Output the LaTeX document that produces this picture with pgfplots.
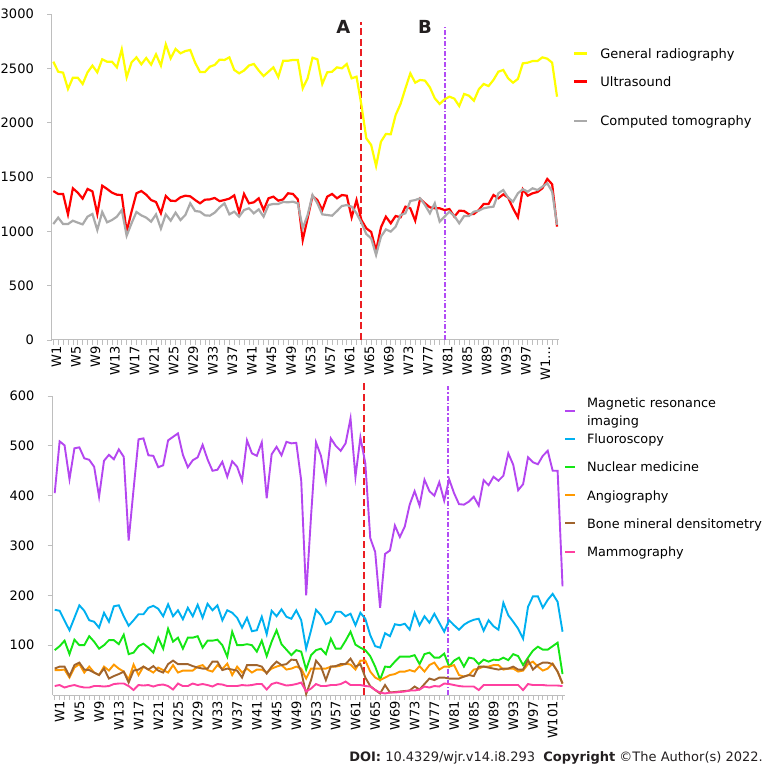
\documentclass[border=0pt]{standalone}
\usepackage{fontspec}
\setmainfont{DejaVu Sans}
\usepackage{pgfplots}
\usepackage{pgfplotstable}
\pgfplotsset{compat=1.18}
\definecolor{cGR}{RGB}{255,255,0}
\definecolor{cUS}{RGB}{255,0,0}
\definecolor{cCT}{RGB}{170,170,170}
\definecolor{cMRI}{RGB}{180,70,240}
\definecolor{cFL}{RGB}{0,176,240}
\definecolor{cNM}{RGB}{20,230,20}
\definecolor{cAN}{RGB}{255,153,0}
\definecolor{cBMD}{RGB}{160,100,45}
\definecolor{cMA}{RGB}{255,64,160}
\definecolor{cA}{RGB}{235,30,35}
\definecolor{cB}{RGB}{178,76,245}
\definecolor{cTxt}{RGB}{35,31,32}
\definecolor{cAx}{RGB}{190,190,190}

\pgfplotstableread{
w gr us ct
1 2561 1371 1067
2 2469 1344 1126
3 2460 1344 1067
4 2310 1156 1067
5 2414 1396 1098
6 2414 1356 1080
7 2356 1301 1064
8 2463 1390 1135
9 2525 1368 1160
10 2463 1160 1012
11 2583 1420 1178
12 2561 1390 1083
13 2561 1356 1104
14 2509 1337 1135
15 2675 1334 1196
16 2417 997 960
17 2555 1181 1074
18 2601 1350 1178
19 2537 1371 1147
20 2595 1337 1126
21 2534 1288 1089
22 2629 1270 1156
23 2525 1166 1025
24 2721 1325 1156
25 2592 1282 1098
26 2678 1279 1172
27 2638 1313 1104
28 2659 1328 1150
29 2669 1322 1258
30 2552 1288 1187
31 2466 1258 1181
32 2466 1291 1147
33 2515 1294 1144
34 2531 1307 1172
35 2580 1278 1220
36 2577 1288 1258
37 2601 1301 1156
38 2485 1331 1181
39 2454 1172 1135
40 2480 1344 1196
41 2526 1258 1212
42 2540 1267 1166
43 2480 1304 1202
44 2429 1196 1135
45 2469 1304 1242
46 2509 1319 1252
47 2420 1282 1252
48 2570 1294 1270
49 2570 1350 1267
50 2577 1344 1273
51 2577 1294 1258
52 2316 920 1028
53 2408 1120 1150
54 2598 1325 1334
55 2583 1288 1258
56 2356 1196 1156
57 2463 1319 1150
58 2469 1344 1144
59 2509 1304 1187
60 2500 1334 1233
61 2540 1328 1242
62 2408 1129 1227
63 2423 1288 1166
64 2163 1104 1080
65 1856 1028 975
66 1794 994 935
67 1601 822 782
68 1825 1037 951
69 1896 1135 1018
70 1893 1074 997
71 2071 1141 1043
72 2172 1129 1150
73 2316 1227 1166
74 2454 1212 1279
75 2368 1098 1288
76 2393 1298 1304
77 2387 1258 1242
78 2325 1221 1166
79 2224 1212 1258
80 2172 1212 1089
81 2215 1196 1135
82 2239 1205 1181
83 2221 1135 1141
84 2153 1190 1074
85 2264 1187 1141
86 2248 1156 1141
87 2202 1160 1181
88 2307 1196 1190
89 2356 1252 1212
90 2337 1252 1221
91 2393 1334 1227
92 2469 1304 1350
93 2485 1340 1380
94 2408 1310 1310
95 2368 1212 1273
96 2402 1129 1350
97 2546 1387 1387
98 2552 1328 1365
99 2567 1350 1396
100 2567 1362 1380
101 2601 1396 1411
102 2589 1482 1442
103 2552 1433 1365
104 2239 1043 1060
}\topdata

\pgfplotstableread{
w mri fl nm an bmd ma
1 405 171 90 50 53 18
2 509 169 98 50 57 20
3 501 149 109 51 57 15
4 433 130 82 35 38 18
5 495 155 111 55 60 20
6 497 180 100 62 65 17
7 475 169 100 45 51 15
8 472 150 118 57 50 15
9 458 147 107 45 45 18
10 398 135 93 40 40 18
11 470 165 100 57 53 17
12 482 147 110 49 33 18
13 473 178 110 61 38 22
14 493 180 102 53 42 23
15 478 158 121 47 47 23
16 310 139 82 31 25 18
17 413 150 85 61 49 10
18 513 162 98 40 51 20
19 515 162 103 57 57 19
20 481 175 95 51 51 20
21 480 179 85 45 58 17
22 457 173 115 55 49 20
23 461 158 93 50 45 21
24 511 182 133 45 62 18
25 518 158 107 60 69 11
26 525 170 115 45 62 23
27 482 152 93 49 62 18
28 457 175 115 49 62 18
29 471 158 115 49 58 23
30 477 181 118 57 55 20
31 502 155 95 60 53 22
32 473 183 109 50 53 20
33 450 170 109 47 67 17
34 452 180 111 60 67 22
35 468 150 100 52 50 21
36 438 170 77 63 53 18
37 469 165 127 40 51 18
38 458 155 100 57 49 18
39 430 135 100 45 35 20
40 511 155 102 53 60 19
41 485 128 100 45 60 20
42 480 130 87 51 60 22
43 507 157 109 51 57 22
44 395 122 78 45 43 11
45 483 169 107 53 57 22
46 498 158 130 57 67 25
47 481 172 102 60 60 22
48 508 157 91 51 62 19
49 505 153 80 53 71 20
50 506 170 90 57 70 22
51 430 150 87 53 47 25
52 200 93 51 33 2 7
53 360 130 80 53 30 13
54 507 171 90 53 69 22
55 480 160 93 53 57 18
56 429 142 82 53 30 18
57 515 147 113 57 57 20
58 500 167 93 57 58 20
59 490 167 93 59 62 22
60 505 158 109 63 62 27
61 555 163 127 61 73 20
62 438 140 101 51 57 20
63 517 165 95 69 62 20
64 465 153 90 69 35 18
65 315 120 78 47 18 17
66 287 98 57 35 10 10
67 175 95 31 30 3 5
68 283 124 57 35 20 3
69 290 118 56 40 5 5
70 340 142 67 42 6 5
71 317 140 77 47 7 6
72 338 143 77 47 8 7
73 382 131 77 50 9 9
74 409 165 80 47 17 9
75 380 140 62 58 11 11
76 432 158 82 47 22 17
77 409 145 85 60 33 15
78 400 163 75 65 30 18
79 427 145 75 51 35 17
80 390 127 83 57 35 23
81 433 150 57 57 33 22
82 405 140 69 60 33 20
83 383 131 75 40 33 18
84 382 141 57 37 37 17
85 388 147 75 40 40 17
86 398 151 73 51 38 17
87 380 153 62 53 57 10
88 431 129 71 57 57 20
89 421 150 67 57 55 20
90 438 138 71 60 53 20
91 430 131 70 60 51 20
92 440 185 75 51 53 20
93 485 160 70 53 53 20
94 462 147 82 53 57 20
95 411 133 78 47 51 20
96 423 113 60 49 51 10
97 477 177 75 62 70 22
98 467 198 89 67 51 20
99 463 198 97 57 60 20
100 480 175 91 49 65 20
101 490 191 91 53 65 19
102 450 203 98 63 62 19
103 450 187 105 47 47 19
104 218 127 42 23 23 18
}\botdata

\pgfplotsset{
  common/.style={
    scale only axis,
    anchor=south west,
    axis lines*=left,
    axis line style={draw=cAx, line width=1pt},
    tick align=outside,
    major tick length=5pt,
    minor tick length=5pt,
    every tick/.style={draw=cAx, line width=0.7pt},
    xtick={1,5,...,101},
    minor xtick={1,2,...,104},
    tick label style={font=\fontsize{13}{15}\selectfont, text=black},
    xticklabel style={rotate=90, anchor=east, inner sep=1pt, yshift=-3pt},
    yticklabel style={anchor=east, inner sep=1pt, xshift=-12pt},
    /pgf/number format/assume math mode=true,
    /pgf/number format/1000 sep={},
    legend cell align=left,
    clip=false,
  }
}

\begin{document}
\begin{tikzpicture}
\path[use as bounding box] (0pt,0pt) rectangle (765pt,772pt);

% ---------- top panel ----------
\begin{axis}[common,
  at={(52pt,432pt)}, width=507pt, height=326pt,
  xmin=0.734, xmax=104.4, ymin=0, ymax=3000,
  ytick={0,500,...,3000},
  xticklabels={W1,W5,W9,W13,W17,W21,W25,W29,W33,W37,W41,W45,W49,W53,W57,W61,W65,W69,W73,W77,W81,W85,W89,W93,W97,{W1\ldots}},
  legend style={draw=none, fill=none, at={(1.0276,0.899)}, anchor=north west,
    inner sep=0pt, row sep=20.5pt, column sep=12pt,
    nodes={inner sep=0pt, font=\fontsize{13}{16}\selectfont}},
  legend image code/.code={\draw[#1] (0pt,0pt) -- (13pt,0pt);},
]
\addplot[cA, line width=2pt, dash pattern=on 7pt off 3.5pt, forget plot] coordinates {(64,0) (64,2930)};
\addplot[cB, line width=2pt, dash pattern=on 5pt off 2pt on 1.5pt off 2pt, forget plot] coordinates {(81,0) (81,2890)};
\addplot[cGR, line width=2.2pt] table[x=w,y=gr]{\topdata};
\addlegendentry{\strut General radiography}
\addplot[cUS, line width=2.2pt, legend image post style={yshift=6.5pt}] table[x=w,y=us]{\topdata};
\addlegendentry{\raisebox{6.5pt}[11.2pt][4.8pt]{Ultrasound}}
\addplot[cCT, line width=2.2pt] table[x=w,y=ct]{\topdata};
\addlegendentry{\strut Computed tomography}
\node[font=\fontsize{18}{20}\selectfont\bfseries, text=cTxt] at (axis cs:60.3,2880) {A};
\node[font=\fontsize{18}{20}\selectfont\bfseries, text=cTxt] at (axis cs:77,2880) {B};
\end{axis}

% ---------- bottom panel ----------
\begin{axis}[common,
  at={(52.7pt,77pt)}, width=512.3pt, height=299pt,
  xmin=0.594, xmax=104.5, ymin=0, ymax=600,
  ytick={100,200,...,600},
  xticklabel style={yshift=-2pt},
  xticklabels={W1,W5,W9,W13,W17,W21,W25,W29,W33,W37,W41,W45,W49,W53,W57,W61,W65,W69,W73,W77,W81,W85,W89,W93,W97,W101},
  legend style={draw=none, fill=none, at={(0.998,0.973)}, anchor=north west,
    inner sep=0pt, row sep=15.5pt, column sep=11pt,
    nodes={inner sep=0pt, font=\fontsize{12.8}{16}\selectfont}},
  legend image code/.code={\draw[#1] (0pt,0pt) -- (10pt,0pt);},
]
\addplot[cA, line width=2pt, dash pattern=on 7pt off 3.5pt, forget plot] coordinates {(63.8,0) (63.8,630)};
\addplot[cB, line width=2pt, dash pattern=on 5pt off 2pt on 1.5pt off 2pt, forget plot] coordinates {(80.7,0) (80.7,620)};
\addplot[cMRI, line width=1.9pt] table[x=w,y=mri]{\botdata};
\addlegendentry{\strut\smash{$\vcenter{\fontsize{12.8}{18}\selectfont\hbox{Magnetic resonance}\hbox{imaging}}$}}
\addplot[cFL, line width=1.9pt] table[x=w,y=fl]{\botdata};
\addlegendentry{\strut Fluoroscopy}
\addplot[cNM, line width=1.9pt] table[x=w,y=nm]{\botdata};
\addlegendentry{\strut Nuclear medicine}
\addplot[cAN, line width=1.9pt] table[x=w,y=an]{\botdata};
\addlegendentry{\strut Angiography}
\addplot[cBMD, line width=1.9pt] table[x=w,y=bmd]{\botdata};
\addlegendentry{\strut Bone mineral densitometry}
\addplot[cMA, line width=1.9pt] table[x=w,y=ma]{\botdata};
\addlegendentry{\strut Mammography}
\end{axis}

\node[anchor=base east, inner sep=0pt, font=\fontsize{13}{15}\selectfont, text=cTxt] at (763pt,10pt)
  {\textbf{DOI:} 10.4329/wjr.v14.i8.293\ \ \textbf{Copyright} \textcopyright The Author(s) 2022.};
\end{tikzpicture}
\end{document}
